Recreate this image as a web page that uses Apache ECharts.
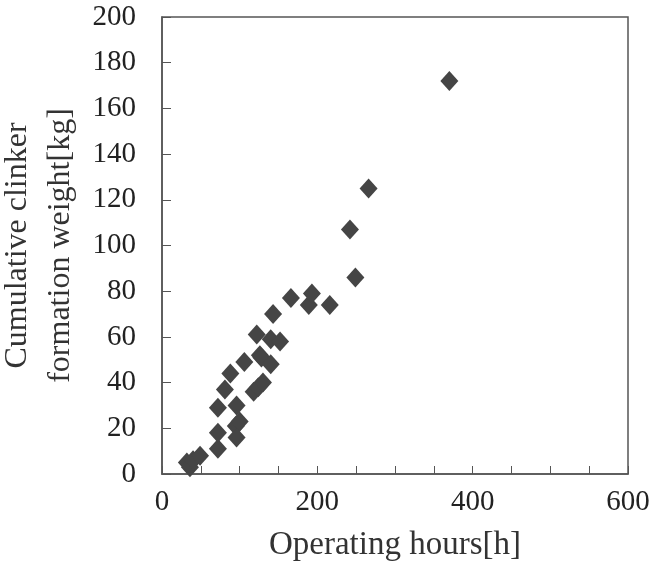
<!DOCTYPE html>
<html>
<head>
    <meta charset="utf-8">
    <title>Cumulative clinker formation weight</title>
    <script src="https://cdn.jsdelivr.net/npm/echarts@6/dist/echarts.min.js"></script>
</head>
<body style="margin:0">
<div id="main" style="width: 650px;height:574px;"></div>
<script type="text/javascript">
    // operating hours [h] and cumulative clinker weight [kg]
    var hours = [32, 36, 40, 49, 72, 72, 72, 81, 88, 95, 96, 96, 100, 106, 118, 124, 130,
                 122, 126, 128, 140, 140, 143, 152, 166, 189, 193, 216, 242, 249, 266, 370];
    var weight = [5, 3, 6, 8, 11, 18, 29, 37, 44, 21, 16, 30, 23, 49, 36, 38, 40,
                  61, 52, 51, 48, 59, 70, 58, 77, 74, 79, 74, 107, 86, 125, 172];
    var xTicks = [0, 200, 400, 600];

    var points = [];
    for (var i = 0; i < hours.length; i++) {
        points.push([hours[i], weight[i]]);
    }

    var font = 'Liberation Serif';
    var myChart = echarts.init(document.getElementById('main'));
    var option = {
        animation: false,
        grid: {
            left: 162, right: 22, top: 17, bottom: 100,
            containLabel: false,
            outerBoundsMode: 'none',
            show: true, borderColor: '#555', borderWidth: 1.5
        },
        xAxis: {
            type: 'value',
            min: 0, max: 600, interval: 50,
            name: 'Operating hours[h]',
            nameLocation: 'middle',
            nameGap: 55,
            nameTextStyle: {fontFamily: font, fontSize: 33, color: '#333'},
            axisLine: {lineStyle: {color: '#555', width: 1.5}},
            axisTick: {inside: true, length: 8, lineStyle: {color: '#555'}},
            axisLabel: {
                fontFamily: font, fontSize: 29, color: '#222', margin: 14,
                formatter: function (v) {
                    return xTicks.indexOf(v) >= 0 ? String(v) : '';
                }
            },
            splitLine: {show: false}
        },
        yAxis: {
            type: 'value',
            min: 0, max: 200, interval: 20,
            name: 'Cumulative clinker\nformation weight[kg]',
            nameLocation: 'middle',
            nameRotate: 90,
            nameGap: 67,
            nameTextStyle: {fontFamily: font, fontSize: 32, color: '#333', lineHeight: 43},
            axisLine: {lineStyle: {color: '#555', width: 1.5}},
            axisTick: {inside: true, length: 9, lineStyle: {color: '#555'}},
            axisLabel: {fontFamily: font, fontSize: 29, color: '#222', margin: 26},
            splitLine: {show: false}
        },
        series: [{
            type: 'scatter',
            symbol: 'diamond',
            symbolSize: [18, 20],
            itemStyle: {color: '#454545', opacity: 1},
            data: points
        }]
    };
    myChart.setOption(option);
</script>
</body>
</html>
